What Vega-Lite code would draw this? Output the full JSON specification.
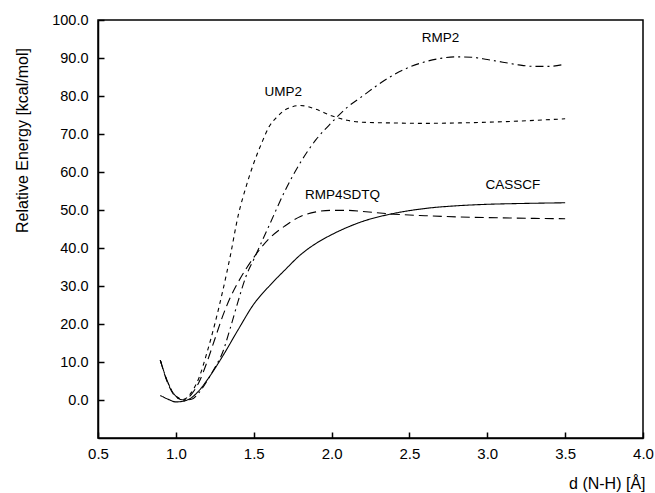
{
  "$schema": "https://vega.github.io/schema/vega-lite/v6.json",
  "autosize": "none",
  "width": 545,
  "height": 418,
  "padding": {"left": 98, "top": 20, "right": 12, "bottom": 55},
  "background": "white",
  "config": {
    "font": "Liberation Sans",
    "view": {"stroke": "black", "strokeWidth": 1.5},
    "axis": {
      "grid": false,
      "domain": true,
      "domainColor": "black",
      "domainWidth": 1.5,
      "tickColor": "black",
      "tickWidth": 1.5,
      "labelColor": "black",
      "titleColor": "black",
      "labelFont": "Liberation Sans",
      "titleFont": "Liberation Sans",
      "labelFontSize": 14.5,
      "titleFontSize": 16,
      "titleFontWeight": "normal"
    }
  },
  "datasets": {
    "curves": [
      {"method": "CASSCF", "d": 0.9, "E": 1.2},
      {"method": "CASSCF", "d": 0.95, "E": 0.2},
      {"method": "CASSCF", "d": 1.0, "E": -0.5},
      {"method": "CASSCF", "d": 1.05, "E": -0.3},
      {"method": "CASSCF", "d": 1.1, "E": 0.6},
      {"method": "CASSCF", "d": 1.15, "E": 2.5},
      {"method": "CASSCF", "d": 1.2, "E": 5.2},
      {"method": "CASSCF", "d": 1.3, "E": 11.5},
      {"method": "CASSCF", "d": 1.4, "E": 18.5},
      {"method": "CASSCF", "d": 1.5, "E": 25.2},
      {"method": "CASSCF", "d": 1.6, "E": 30.0},
      {"method": "CASSCF", "d": 1.7, "E": 34.2},
      {"method": "CASSCF", "d": 1.8, "E": 38.2},
      {"method": "CASSCF", "d": 1.9, "E": 41.2},
      {"method": "CASSCF", "d": 2.0, "E": 43.5},
      {"method": "CASSCF", "d": 2.2, "E": 47.0},
      {"method": "CASSCF", "d": 2.4, "E": 49.1},
      {"method": "CASSCF", "d": 2.6, "E": 50.4},
      {"method": "CASSCF", "d": 2.8, "E": 51.1},
      {"method": "CASSCF", "d": 3.0, "E": 51.5},
      {"method": "CASSCF", "d": 3.2, "E": 51.7},
      {"method": "CASSCF", "d": 3.5, "E": 51.9},
      {"method": "UMP2", "d": 0.9, "E": 10.5},
      {"method": "UMP2", "d": 0.95, "E": 4.5},
      {"method": "UMP2", "d": 1.0, "E": 1.0},
      {"method": "UMP2", "d": 1.05, "E": 0.2},
      {"method": "UMP2", "d": 1.1, "E": 2.0},
      {"method": "UMP2", "d": 1.15, "E": 6.0},
      {"method": "UMP2", "d": 1.2, "E": 12.5},
      {"method": "UMP2", "d": 1.25, "E": 20.0},
      {"method": "UMP2", "d": 1.3, "E": 28.5},
      {"method": "UMP2", "d": 1.35, "E": 38.0},
      {"method": "UMP2", "d": 1.4, "E": 48.5},
      {"method": "UMP2", "d": 1.45, "E": 56.0},
      {"method": "UMP2", "d": 1.5, "E": 62.3},
      {"method": "UMP2", "d": 1.55, "E": 67.5},
      {"method": "UMP2", "d": 1.6, "E": 72.0},
      {"method": "UMP2", "d": 1.65, "E": 74.5},
      {"method": "UMP2", "d": 1.7, "E": 76.3},
      {"method": "UMP2", "d": 1.8, "E": 77.5},
      {"method": "UMP2", "d": 1.9, "E": 76.5},
      {"method": "UMP2", "d": 2.0, "E": 74.8},
      {"method": "UMP2", "d": 2.1, "E": 73.6},
      {"method": "UMP2", "d": 2.2, "E": 73.1},
      {"method": "UMP2", "d": 2.4, "E": 72.9},
      {"method": "UMP2", "d": 2.6, "E": 72.8},
      {"method": "UMP2", "d": 2.8, "E": 72.9},
      {"method": "UMP2", "d": 3.0, "E": 73.1},
      {"method": "UMP2", "d": 3.2, "E": 73.4},
      {"method": "UMP2", "d": 3.5, "E": 74.0},
      {"method": "RMP4SDTQ", "d": 0.9, "E": 10.5},
      {"method": "RMP4SDTQ", "d": 0.95, "E": 4.2},
      {"method": "RMP4SDTQ", "d": 1.0, "E": 0.8},
      {"method": "RMP4SDTQ", "d": 1.05, "E": 0.0},
      {"method": "RMP4SDTQ", "d": 1.1, "E": 1.5},
      {"method": "RMP4SDTQ", "d": 1.15, "E": 4.8},
      {"method": "RMP4SDTQ", "d": 1.2, "E": 10.0},
      {"method": "RMP4SDTQ", "d": 1.25, "E": 16.0},
      {"method": "RMP4SDTQ", "d": 1.3, "E": 22.0},
      {"method": "RMP4SDTQ", "d": 1.35, "E": 27.0},
      {"method": "RMP4SDTQ", "d": 1.4, "E": 31.0},
      {"method": "RMP4SDTQ", "d": 1.5, "E": 37.5},
      {"method": "RMP4SDTQ", "d": 1.6, "E": 42.5},
      {"method": "RMP4SDTQ", "d": 1.7, "E": 45.8},
      {"method": "RMP4SDTQ", "d": 1.8, "E": 48.3},
      {"method": "RMP4SDTQ", "d": 1.9, "E": 49.5},
      {"method": "RMP4SDTQ", "d": 2.0, "E": 49.9},
      {"method": "RMP4SDTQ", "d": 2.1, "E": 49.9},
      {"method": "RMP4SDTQ", "d": 2.2, "E": 49.6},
      {"method": "RMP4SDTQ", "d": 2.4, "E": 48.9},
      {"method": "RMP4SDTQ", "d": 2.6, "E": 48.5},
      {"method": "RMP4SDTQ", "d": 2.8, "E": 48.2},
      {"method": "RMP4SDTQ", "d": 3.0, "E": 48.0},
      {"method": "RMP4SDTQ", "d": 3.5, "E": 47.7},
      {"method": "RMP2", "d": 0.9, "E": 10.5},
      {"method": "RMP2", "d": 0.95, "E": 4.5},
      {"method": "RMP2", "d": 1.0, "E": 1.0},
      {"method": "RMP2", "d": 1.05, "E": 0.0},
      {"method": "RMP2", "d": 1.1, "E": 0.2},
      {"method": "RMP2", "d": 1.15, "E": 2.0},
      {"method": "RMP2", "d": 1.2, "E": 5.0},
      {"method": "RMP2", "d": 1.25, "E": 8.5},
      {"method": "RMP2", "d": 1.3, "E": 12.5},
      {"method": "RMP2", "d": 1.35, "E": 19.0},
      {"method": "RMP2", "d": 1.4, "E": 26.0},
      {"method": "RMP2", "d": 1.45, "E": 32.5},
      {"method": "RMP2", "d": 1.5, "E": 37.0},
      {"method": "RMP2", "d": 1.55, "E": 41.5},
      {"method": "RMP2", "d": 1.6, "E": 46.0},
      {"method": "RMP2", "d": 1.7, "E": 55.0},
      {"method": "RMP2", "d": 1.8, "E": 62.5},
      {"method": "RMP2", "d": 1.9, "E": 68.5},
      {"method": "RMP2", "d": 2.0, "E": 73.0},
      {"method": "RMP2", "d": 2.1, "E": 77.0},
      {"method": "RMP2", "d": 2.2, "E": 80.0},
      {"method": "RMP2", "d": 2.3, "E": 83.0},
      {"method": "RMP2", "d": 2.4, "E": 85.6},
      {"method": "RMP2", "d": 2.5, "E": 87.6},
      {"method": "RMP2", "d": 2.6, "E": 89.0},
      {"method": "RMP2", "d": 2.7, "E": 89.9},
      {"method": "RMP2", "d": 2.8, "E": 90.3},
      {"method": "RMP2", "d": 2.9, "E": 90.2},
      {"method": "RMP2", "d": 3.0, "E": 89.6},
      {"method": "RMP2", "d": 3.1, "E": 88.9},
      {"method": "RMP2", "d": 3.2, "E": 88.2},
      {"method": "RMP2", "d": 3.3, "E": 87.8},
      {"method": "RMP2", "d": 3.4, "E": 87.8},
      {"method": "RMP2", "d": 3.5, "E": 88.4}
    ],
    "labels": [
      {"label": "UMP2", "d": 1.69, "E": 81.0},
      {"label": "RMP2", "d": 2.70, "E": 95.3},
      {"label": "RMP4SDTQ", "d": 2.07, "E": 53.9},
      {"label": "CASSCF", "d": 3.165, "E": 56.6}
    ]
  },
  "layer": [
    {
      "data": {"name": "curves"},
      "mark": {"type": "line", "color": "black", "strokeWidth": 1.1, "interpolate": "monotone"},
      "encoding": {
        "x": {
          "field": "d", "type": "quantitative",
          "scale": {"domain": [0.5, 4.0], "nice": false, "zero": false},
          "axis": {
            "values": [0.5, 1.0, 1.5, 2.0, 2.5, 3.0, 3.5, 4.0],
            "format": ".1f",
            "tickSize": -6,
            "labelPadding": 14,
            "labelFontSize": 15,
            "labelFlush": false,
            "labelOverlap": false,
            "title": "d (N-H) [Å]",
            "titleAnchor": "end",
            "titleFontSize": 16,
            "titleX": 547,
            "titleY": 45,
            "titleBaseline": "middle"
          }
        },
        "y": {
          "field": "E", "type": "quantitative",
          "scale": {"domain": [-10, 100], "nice": false, "zero": false},
          "axis": {
            "values": [0, 10, 20, 30, 40, 50, 60, 70, 80, 90, 100],
            "format": ".1f",
            "tickSize": -6,
            "labelPadding": 16,
            "labelOverlap": false,
            "labelFlush": false,
            "title": "Relative Energy [kcal/mol]",
            "titleFontSize": 16,
            "titleX": -76,
            "titleY": 120,
            "titleAngle": -90,
            "titleAlign": "center",
            "titleBaseline": "middle"
          }
        },
        "strokeDash": {
          "field": "method", "type": "nominal",
          "scale": {
            "domain": ["CASSCF", "RMP4SDTQ", "UMP2", "RMP2"],
            "range": [[1, 0], [9, 5], [4, 4], [8, 4, 2, 4]]
          },
          "legend": null
        },
        "detail": {"field": "method"}
      }
    },
    {
      "data": {"name": "labels"},
      "mark": {"type": "text", "font": "Liberation Sans", "fontSize": 13.5, "color": "black"},
      "encoding": {
        "x": {"field": "d", "type": "quantitative"},
        "y": {"field": "E", "type": "quantitative"},
        "text": {"field": "label"}
      }
    }
  ]
}
